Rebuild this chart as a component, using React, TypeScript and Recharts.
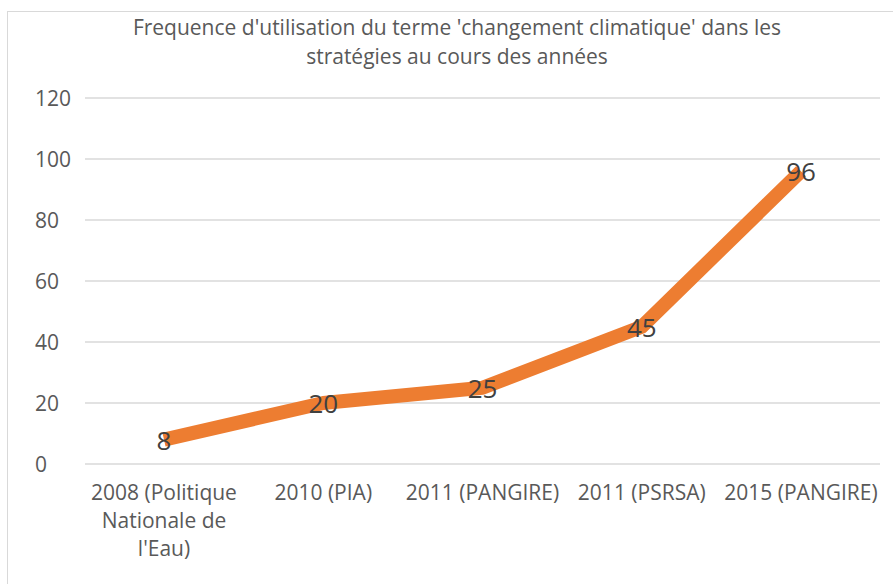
import { LineChart, Line, XAxis, YAxis, CartesianGrid, LabelList } from 'recharts';

// line breaks follow the wrapping of the original axis labels
const categories = [
  "2008 (Politique\nNationale de\nl'Eau)",
  '2010 (PIA)',
  '2011 (PANGIRE)',
  '2011 (PSRSA)',
  '2015 (PANGIRE)',
];
const frequence = [8, 20, 25, 45, 96];
const yTicks = [0, 20, 40, 60, 80, 100, 120];

const data = categories.map((name, i) => ({ name, value: frequence[i] }));

const FONT = '"Open Sans", sans-serif';

function YTick({ y, payload }: any) {
  return (
    <text x={35} y={y} textAnchor="start" dominantBaseline="central" fill="#595959" fontSize={21} fontFamily={FONT}>
      {payload.value}
    </text>
  );
}

function XTick({ x, y, payload }: any) {
  const lines = String(payload.value).split('\n');
  return (
    <text x={x} y={y} textAnchor="middle" fill="#595959" fontSize={21} fontFamily={FONT}>
      {lines.map((l, i) => (
        <tspan key={i} x={x} y={y + 20 + i * 28} dominantBaseline="central">{l}</tspan>
      ))}
    </text>
  );
}

export default function App() {
  return (
    <div style={{ position: 'absolute', left: 0, top: 0, width: 893, height: 584, background: '#fff', overflow: 'hidden' }}>
      {/* outer frame */}
      <div style={{ position: 'absolute', left: 7, top: 11, width: 900, height: 600, border: '1.5px solid #d9d9d9' }} />
      <div style={{
        position: 'absolute', left: 457, top: 13, transform: 'translateX(-50%)', whiteSpace: 'nowrap',
        textAlign: 'center', color: '#595959', fontFamily: FONT, fontSize: 21, lineHeight: '29px',
      }}>
        Frequence d'utilisation du terme 'changement climatique' dans les<br />stratégies au cours des années
      </div>
      <LineChart width={893} height={584} data={data} margin={{ top: 98, right: 13, left: 35, bottom: 30 }}
        style={{ position: 'absolute', left: 0, top: 0 }}>
        <CartesianGrid vertical={false} stroke="#d9d9d9" strokeWidth={1.5} />
        <XAxis dataKey="name" axisLine={false} tickLine={false} interval={0} height={90}
          padding={{ left: 79, right: 79 }} tick={<XTick />} />
        <YAxis width={50} domain={[0, 120]} ticks={yTicks} axisLine={false} tickLine={false} tick={<YTick />} />
        <Line type="linear" dataKey="value" stroke="#ED7D31" strokeWidth={14} strokeLinejoin="round"
          dot={false} isAnimationActive={false}>
          <LabelList dataKey="value" position="center"
            content={(p: any) => (
              <text x={p.x} y={p.y} textAnchor="middle" dominantBaseline="central" fill="#404040"
                fontSize={26} fontFamily={FONT}>{p.value}</text>
            )} />
        </Line>
      </LineChart>
    </div>
  );
}
